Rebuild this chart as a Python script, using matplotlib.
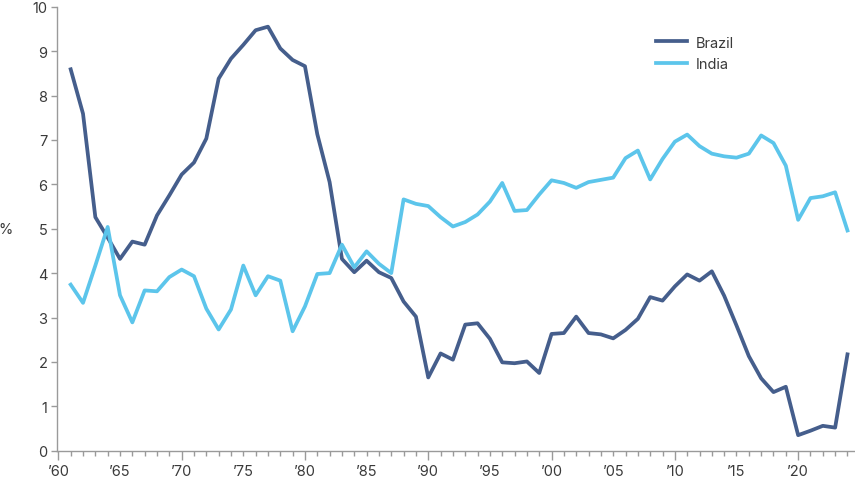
import numpy as np
import matplotlib
matplotlib.use('Agg')
import matplotlib.pyplot as plt
from matplotlib.ticker import MultipleLocator, FuncFormatter

plt.rcParams['font.family'] = ['Inter', 'DejaVu Sans']

years = list(range(1961, 2025))

brazil = [8.59, 7.59, 5.26, 4.80, 4.32, 4.71, 4.64, 5.30, 5.75, 6.22,
          6.49, 7.03, 8.38, 8.83, 9.14, 9.47, 9.55, 9.06, 8.80, 8.66,
          7.13, 6.05, 4.32, 4.02, 4.28, 4.02, 3.89, 3.36, 3.02, 1.65,
          2.19, 2.05, 2.84, 2.87, 2.52, 1.99, 1.97, 2.01, 1.75, 2.63,
          2.65, 3.02, 2.65, 2.62, 2.53, 2.72, 2.97, 3.46, 3.38, 3.70,
          3.97, 3.83, 4.04, 3.49, 2.82, 2.13, 1.63, 1.32, 1.44, 0.35,
          0.45, 0.56, 0.52, 2.17]

india = [3.74, 3.33, 4.17, 5.04, 3.50, 2.89, 3.61, 3.59, 3.91, 4.08,
         3.93, 3.20, 2.73, 3.18, 4.17, 3.50, 3.93, 3.83, 2.69, 3.25,
         3.98, 4.00, 4.64, 4.13, 4.49, 4.21, 4.00, 5.66, 5.56, 5.51,
         5.26, 5.05, 5.15, 5.32, 5.61, 6.03, 5.40, 5.42, 5.77, 6.09,
         6.03, 5.92, 6.05, 6.10, 6.15, 6.59, 6.76, 6.11, 6.57, 6.96,
         7.12, 6.86, 6.69, 6.63, 6.60, 6.69, 7.10, 6.93, 6.42, 5.20,
         5.69, 5.73, 5.82, 4.96]

brazil_color = '#455e8c'
india_color = '#5cc5eb'
axis_color = '#9a9a9a'
text_color = '#3a3a3a'

fig = plt.figure(figsize=(8.55, 4.81), dpi=100)
ax = fig.add_axes([57 / 855, 29.3 / 481, 797 / 855, 444 / 481])

ax.plot(years, brazil, color=brazil_color, lw=2.7, label='Brazil', solid_joinstyle='round')
ax.plot(years, india, color=india_color, lw=2.7, label='India', solid_joinstyle='round')

ax.set_xlim(1959.89, 2024.53)
ax.set_ylim(0, 10)

for s in ['top', 'right']:
    ax.spines[s].set_visible(False)
for s in ['left', 'bottom']:
    ax.spines[s].set_color(axis_color)
    ax.spines[s].set_linewidth(1.0)

ax.yaxis.set_major_locator(MultipleLocator(1))
ax.xaxis.set_major_locator(MultipleLocator(10))
ax.xaxis.set_minor_locator(MultipleLocator(1))


def yr(x, pos=None):
    return '\u2019%02d' % (int(round(x)) % 100)


def yr_minor(x, pos=None):
    n = int(round(x))
    if n % 5 == 0 and n % 10 != 0:
        return yr(x)
    return ''


ax.xaxis.set_major_formatter(FuncFormatter(yr))
ax.xaxis.set_minor_formatter(FuncFormatter(yr_minor))

ax.tick_params(axis='x', which='major', length=6.5, width=1.0, color=axis_color,
               labelsize=10.5, labelcolor=text_color, pad=3.2)
ax.tick_params(axis='x', which='minor', length=3.6, width=1.0, color=axis_color,
               labelsize=10.5, labelcolor=text_color, pad=6.1)
ax.tick_params(axis='y', length=4, width=1.0, color=axis_color,
               labelsize=10.5, labelcolor=text_color, pad=3)

ax.set_ylabel('%', rotation=0, fontsize=10.5, color=text_color, ha='center', va='center')
ax.yaxis.set_label_coords(-0.064, 0.5)

ax.legend(loc='upper left', bbox_to_anchor=(0.7516, 0.935), frameon=False,
          fontsize=10.5, labelcolor=text_color, handlelength=2.1, handletextpad=0.6,
          labelspacing=0.5, borderpad=0, borderaxespad=0)

fig.savefig('out.png', dpi=100)
